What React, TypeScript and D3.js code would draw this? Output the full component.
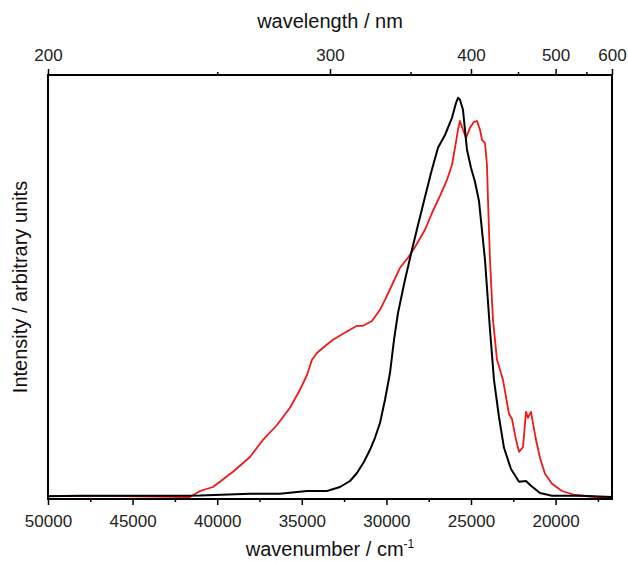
import React, { useRef, useEffect } from 'react';
import * as d3 from 'd3';

// wavenumber (cm-1) and normalised intensity
const blackWavenumber = [50000, 48109, 43972, 41017, 38062, 36289, 34693, 33511, 32743, 32152, 31738, 31324, 30970, 30675, 30379, 30083, 29788, 29551, 29315, 28901, 28488, 28133, 27778, 27365, 26951, 26537, 26124, 25887, 25769, 25651, 25474, 25237, 25001, 24765, 24528, 24174, 23878, 23642, 23346, 23050, 22636, 22163, 21750, 21455, 20923, 20214, 18559, 16667];
const blackIntensity = [0.002, 0.003, 0.003, 0.004, 0.008, 0.008, 0.015, 0.015, 0.025, 0.04, 0.06, 0.088, 0.118, 0.148, 0.185, 0.243, 0.31, 0.393, 0.46, 0.543, 0.618, 0.68, 0.74, 0.81, 0.873, 0.905, 0.948, 0.985, 0.998, 0.993, 0.968, 0.868, 0.823, 0.788, 0.74, 0.593, 0.418, 0.293, 0.2, 0.123, 0.07, 0.038, 0.04, 0.028, 0.01, 0.003, 0.003, 0.0];

const redWavenumber = [50000, 45745, 41903, 41608, 41017, 40249, 39067, 38062, 37294, 36466, 35698, 35107, 34693, 34398, 34102, 33748, 33157, 32566, 31738, 31384, 30852, 30379, 30083, 29670, 29197, 28724, 28310, 27719, 27306, 26833, 26419, 26124, 25946, 25769, 25651, 25474, 25296, 25060, 24824, 24646, 24469, 24351, 24174, 24056, 23996, 23878, 23701, 23464, 23110, 22755, 22577, 22341, 22163, 21927, 21750, 21632, 21455, 21159, 20923, 20628, 20214, 19623, 18854, 17613, 16667];
const redIntensity = [0.002, 0.002, 0.0, 0.0, 0.015, 0.025, 0.063, 0.1, 0.143, 0.18, 0.223, 0.268, 0.305, 0.343, 0.36, 0.373, 0.393, 0.408, 0.428, 0.428, 0.44, 0.468, 0.493, 0.53, 0.573, 0.598, 0.625, 0.668, 0.71, 0.753, 0.793, 0.83, 0.873, 0.918, 0.94, 0.918, 0.898, 0.923, 0.938, 0.94, 0.918, 0.893, 0.885, 0.83, 0.743, 0.593, 0.443, 0.343, 0.293, 0.208, 0.195, 0.143, 0.113, 0.125, 0.213, 0.198, 0.213, 0.143, 0.098, 0.058, 0.033, 0.015, 0.005, 0.0, 0.0];

const wavenumberMajor = [50000, 45000, 40000, 35000, 30000, 25000, 20000];
const wavenumberMinor = [47500, 42500, 37500, 32500, 27500, 22500, 17500];
const wavelengthMajor = [200, 300, 400, 500, 600];
const wavelengthMinor = [250, 350, 450, 550];

const App = () => {
  const chartRef = useRef<HTMLDivElement>(null);

  useEffect(() => {
    const width = 628;
    const height = 561;
    const left = 48, right = 612, top = 75, bottom = 499;
    const font = '"Liberation Sans", Arial, sans-serif';

    d3.select(chartRef.current).selectAll('*').remove();

    const svg = d3.select(chartRef.current)
      .append('svg')
      .attr('width', width)
      .attr('height', height)
      .style('display', 'block');

    const x = d3.scaleLinear().domain([50000, 1e7 / 600]).range([left, right]);
    const y = d3.scaleLinear().domain([-0.005, 1.055]).range([bottom, top]);

    const line = d3.line<[number, number]>()
      .x(d => x(d[0]))
      .y(d => y(d[1]));

    const black = blackWavenumber.map((w, i) => [w, blackIntensity[i]] as [number, number]);
    const red = redWavenumber.map((w, i) => [w, redIntensity[i]] as [number, number]);

    svg.append('path')
      .datum(red)
      .attr('d', line)
      .attr('fill', 'none')
      .attr('stroke', '#f01818')
      .attr('stroke-width', 1.8)
      .attr('stroke-linejoin', 'round');

    svg.append('path')
      .datum(black)
      .attr('d', line)
      .attr('fill', 'none')
      .attr('stroke', '#000')
      .attr('stroke-width', 2)
      .attr('stroke-linejoin', 'round');

    // bottom axis
    const bottomAxis = svg.append('g')
      .attr('transform', `translate(0,${bottom})`)
      .call(d3.axisBottom(x).tickValues(wavenumberMajor).tickSize(6).tickSizeOuter(0).tickPadding(10).tickFormat(d => String(d)));
    bottomAxis.select('.domain').remove();
    bottomAxis.selectAll('text').attr('font-size', 17).attr('font-family', font).attr('fill', '#222');
    bottomAxis.selectAll('line').attr('stroke-width', 1.5);

    const bottomMinor = svg.append('g')
      .attr('transform', `translate(0,${bottom})`)
      .call(d3.axisBottom(x).tickValues(wavenumberMinor).tickSize(3).tickSizeOuter(0).tickFormat(() => ''));
    bottomMinor.select('.domain').remove();
    bottomMinor.selectAll('line').attr('stroke-width', 1.5);

    // top axis, wavelength
    const topAxis = svg.append('g')
      .attr('transform', `translate(0,${top})`)
      .call(d3.axisTop(x).tickValues(wavelengthMajor.map(w => 1e7 / w)).tickSize(6).tickSizeOuter(0).tickPadding(8).tickFormat(d => String(Math.round(1e7 / Number(d)))));
    topAxis.select('.domain').remove();
    topAxis.selectAll('text').attr('font-size', 17).attr('font-family', font).attr('fill', '#222');
    topAxis.selectAll('line').attr('stroke-width', 1.5);

    const topMinor = svg.append('g')
      .attr('transform', `translate(0,${top})`)
      .call(d3.axisTop(x).tickValues(wavelengthMinor.map(w => 1e7 / w)).tickSize(3).tickSizeOuter(0).tickFormat(() => ''));
    topMinor.select('.domain').remove();
    topMinor.selectAll('line').attr('stroke-width', 1.5);

    // frame
    svg.append('rect')
      .attr('x', left)
      .attr('y', top)
      .attr('width', right - left)
      .attr('height', bottom - top)
      .attr('fill', 'none')
      .attr('stroke', '#000')
      .attr('stroke-width', 2);

    // titles
    svg.append('text')
      .attr('x', (left + right) / 2)
      .attr('y', 28)
      .attr('text-anchor', 'middle')
      .attr('font-family', font)
      .attr('font-size', 20)
      .attr('fill', '#111')
      .text('wavelength / nm');

    const xTitle = svg.append('text')
      .attr('x', (left + right) / 2)
      .attr('y', 556)
      .attr('text-anchor', 'middle')
      .attr('font-family', font)
      .attr('font-size', 20)
      .attr('fill', '#111');
    xTitle.append('tspan').text('wavenumber / cm');
    xTitle.append('tspan').attr('dy', -8).attr('font-size', 12).text('-1');

    svg.append('text')
      .attr('transform', `translate(27,${(top + bottom) / 2}) rotate(-90)`)
      .attr('text-anchor', 'middle')
      .attr('font-family', font)
      .attr('font-size', 20)
      .attr('fill', '#111')
      .text('Intensity / arbitrary units');
  }, []);

  return <div ref={chartRef} style={{ position: 'absolute', left: 0, top: 0 }}></div>;
};

export default App;
